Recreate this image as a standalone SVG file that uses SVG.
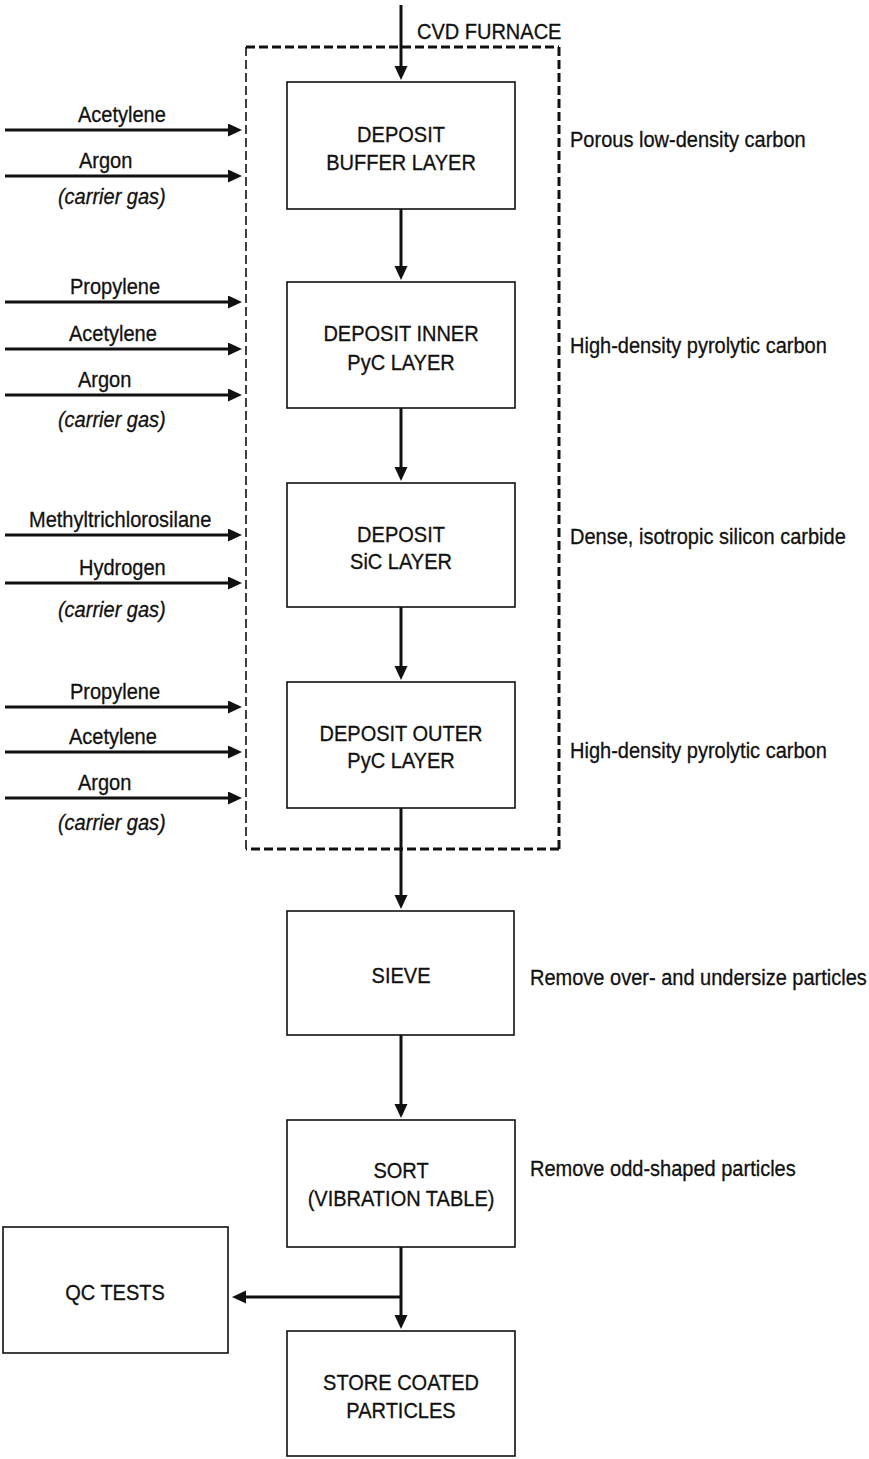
<svg xmlns="http://www.w3.org/2000/svg" width="869" height="1459" viewBox="0 0 869 1459">
  <style>
    text { font-family: "Liberation Sans", Arial, sans-serif; font-size: 22px; fill: #111; stroke: #111; stroke-width: 0.3; }
    .c { text-anchor: middle; }
    .it { font-style: italic; }
    .box { fill: #fff; stroke: #111; stroke-width: 1.6; }
    .flow { stroke: #111; stroke-width: 3; fill: none; marker-end: url(#head); }
    .furnace { stroke: #111; fill: none; stroke-dasharray: 9 4; }
  </style>
  <defs>
    <marker id="head" markerUnits="userSpaceOnUse" markerWidth="16" markerHeight="14" refX="2" refY="6.5" orient="auto">
      <path d="M0,0 L14,6.5 L0,13 Z" fill="#111"/>
    </marker>
  </defs>

  <rect width="869" height="1459" fill="#fff"/>

  <!-- CVD furnace enclosure -->
  <g id="cvd-furnace">
    <line class="furnace" x1="246" y1="47" x2="559" y2="47" stroke-width="3"/>
    <line class="furnace" x1="559" y1="47" x2="559" y2="849" stroke-width="3"/>
    <line class="furnace" x1="559" y1="849" x2="246" y2="849" stroke-width="3"/>
    <line class="furnace" x1="246" y1="849" x2="246" y2="47" stroke-width="1.6"/>
    <text transform="scale(0.91 1)" x="458.2" y="39">CVD FURNACE</text>
  </g>

  <!-- process steps -->
  <g id="buffer-layer">
    <rect class="box" x="287" y="82" width="228" height="127"/>
    <text class="c" transform="scale(0.91 1)" x="440.7" y="142">DEPOSIT</text>
    <text class="c" transform="scale(0.91 1)" x="440.7" y="170">BUFFER LAYER</text>
  </g>
  <g id="inner-pyc">
    <rect class="box" x="287" y="282" width="228" height="126"/>
    <text class="c" transform="scale(0.91 1)" x="440.7" y="341">DEPOSIT INNER</text>
    <text class="c" transform="scale(0.91 1)" x="440.7" y="370">PyC LAYER</text>
  </g>
  <g id="sic-layer">
    <rect class="box" x="287" y="483" width="228" height="124"/>
    <text class="c" transform="scale(0.91 1)" x="440.7" y="542">DEPOSIT</text>
    <text class="c" transform="scale(0.91 1)" x="440.7" y="569">SiC LAYER</text>
  </g>
  <g id="outer-pyc">
    <rect class="box" x="287" y="682" width="228" height="126"/>
    <text class="c" transform="scale(0.91 1)" x="440.7" y="741">DEPOSIT OUTER</text>
    <text class="c" transform="scale(0.91 1)" x="440.7" y="768">PyC LAYER</text>
  </g>
  <g id="sieve">
    <rect class="box" x="287" y="911" width="227" height="124"/>
    <text class="c" transform="scale(0.91 1)" x="440.7" y="983">SIEVE</text>
  </g>
  <g id="sort">
    <rect class="box" x="287" y="1120" width="228" height="127"/>
    <text class="c" transform="scale(0.91 1)" x="440.7" y="1178">SORT</text>
    <text class="c" transform="scale(0.91 1)" x="440.7" y="1206">(VIBRATION TABLE)</text>
  </g>
  <g id="qc-tests">
    <rect class="box" x="3" y="1227" width="225" height="126"/>
    <text class="c" transform="scale(0.91 1)" x="126.4" y="1300">QC TESTS</text>
  </g>
  <g id="store">
    <rect class="box" x="287" y="1331" width="228" height="125"/>
    <text class="c" transform="scale(0.91 1)" x="440.7" y="1390">STORE COATED</text>
    <text class="c" transform="scale(0.91 1)" x="440.7" y="1418">PARTICLES</text>
  </g>

  <!-- layer descriptions -->
  <g id="notes">
    <text transform="scale(0.91 1)" x="626.4" y="147">Porous low-density carbon</text>
    <text transform="scale(0.91 1)" x="626.4" y="353">High-density pyrolytic carbon</text>
    <text transform="scale(0.91 1)" x="626.4" y="544">Dense, isotropic silicon carbide</text>
    <text transform="scale(0.91 1)" x="626.4" y="758">High-density pyrolytic carbon</text>
    <text transform="scale(0.91 1)" x="582.4" y="985">Remove over- and undersize particles</text>
    <text transform="scale(0.91 1)" x="582.4" y="1176">Remove odd-shaped particles</text>
  </g>

  <!-- gas feed labels -->
  <g id="feeds">
    <text transform="scale(0.91 1)" x="85.7" y="122">Acetylene</text>
    <text transform="scale(0.91 1)" x="86.8" y="168">Argon</text>
    <text class="it" transform="scale(0.91 1)" x="63.7" y="204">(carrier gas)</text>

    <text transform="scale(0.91 1)" x="76.9" y="294">Propylene</text>
    <text transform="scale(0.91 1)" x="75.8" y="341">Acetylene</text>
    <text transform="scale(0.91 1)" x="85.7" y="387">Argon</text>
    <text class="it" transform="scale(0.91 1)" x="63.7" y="427">(carrier gas)</text>

    <text transform="scale(0.91 1)" x="31.9" y="527">Methyltrichlorosilane</text>
    <text transform="scale(0.91 1)" x="86.8" y="575">Hydrogen</text>
    <text class="it" transform="scale(0.91 1)" x="63.7" y="617">(carrier gas)</text>

    <text transform="scale(0.91 1)" x="76.9" y="699">Propylene</text>
    <text transform="scale(0.91 1)" x="75.8" y="744">Acetylene</text>
    <text transform="scale(0.91 1)" x="85.7" y="790">Argon</text>
    <text class="it" transform="scale(0.91 1)" x="63.7" y="830">(carrier gas)</text>
  </g>

  <!-- connectors -->
  <g id="connectors">
    <line class="flow" x1="5" y1="130" x2="230" y2="130"/>
    <line class="flow" x1="5" y1="176" x2="230" y2="176"/>
    <line class="flow" x1="5" y1="302" x2="230" y2="302"/>
    <line class="flow" x1="5" y1="349" x2="230" y2="349"/>
    <line class="flow" x1="5" y1="395" x2="230" y2="395"/>
    <line class="flow" x1="5" y1="535" x2="230" y2="535"/>
    <line class="flow" x1="5" y1="583" x2="230" y2="583"/>
    <line class="flow" x1="5" y1="707" x2="230" y2="707"/>
    <line class="flow" x1="5" y1="752" x2="230" y2="752"/>
    <line class="flow" x1="5" y1="798" x2="230" y2="798"/>

    <line class="flow" x1="401" y1="5" x2="401" y2="68"/>
    <line class="flow" x1="401" y1="209" x2="401" y2="268"/>
    <line class="flow" x1="401" y1="408" x2="401" y2="469"/>
    <line class="flow" x1="401" y1="607" x2="401" y2="668"/>
    <line class="flow" x1="401" y1="808" x2="401" y2="897"/>
    <line class="flow" x1="401" y1="1035" x2="401" y2="1106"/>
    <line class="flow" x1="401" y1="1247" x2="401" y2="1317"/>
    <line class="flow" x1="401" y1="1297" x2="244" y2="1297"/>
  </g>
</svg>
